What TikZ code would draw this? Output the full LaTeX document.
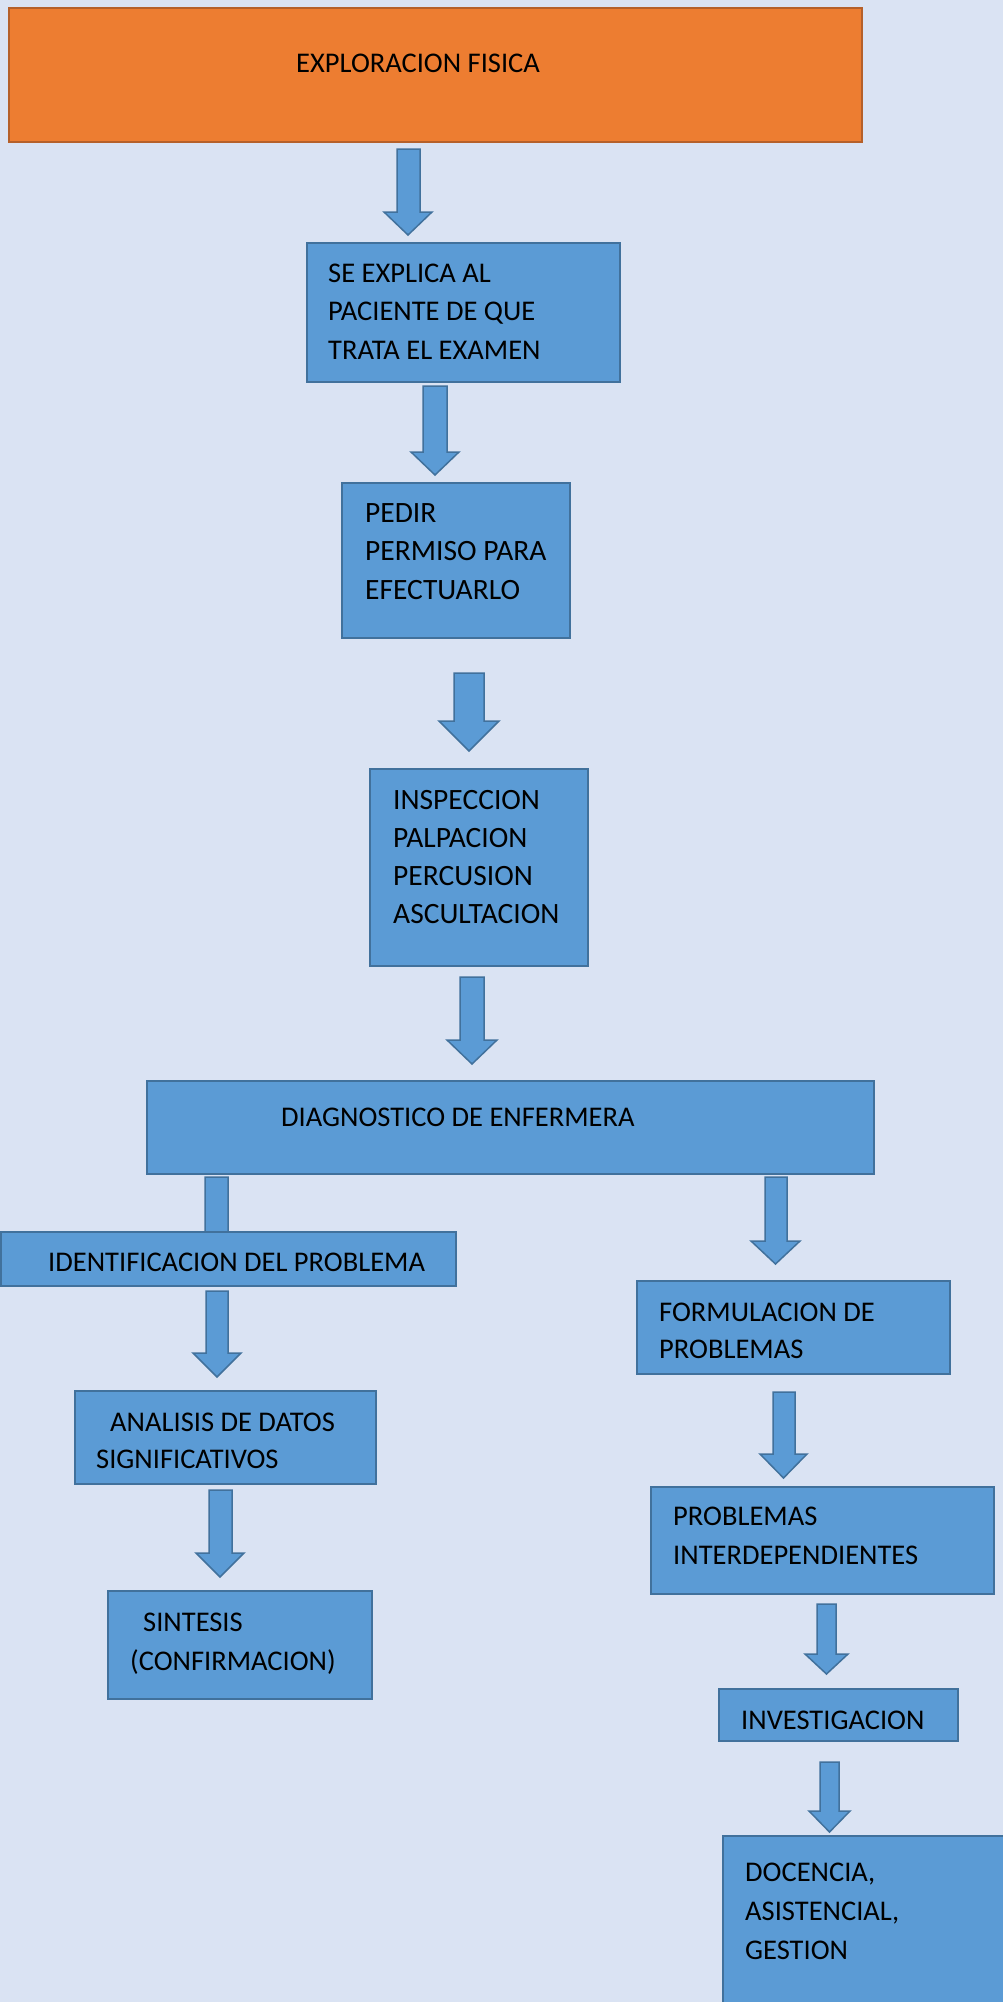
\documentclass[tikz,border=0pt]{standalone}
\usepackage{fontspec}
\setmainfont{Carlito}
\definecolor{bg}{HTML}{DAE3F3}
\definecolor{boxfill}{HTML}{5B9BD5}
\definecolor{boxline}{HTML}{41719C}
\definecolor{ofill}{HTML}{ED7D31}
\definecolor{oline}{HTML}{B5602A}
% block arrow: shaft left, shaft right, top, head start, head left, head right, tip
\newcommand{\blockarr}[7]{\draw[arr] (#1,#3) -- (#2,#3) -- (#2,#4) -- (#6,#4) -- ({(#5+#6)/2},#7) -- (#5,#4) -- (#1,#4) -- cycle;}
\begin{document}
\begin{tikzpicture}[x=1pt,y=-1pt,
  box/.style={draw=boxline, fill=boxfill, line width=2pt, inner sep=0pt},
  obox/.style={draw=oline, fill=ofill, line width=2pt, inner sep=0pt},
  txt/.style={anchor=base west, inner sep=0pt, align=left, font=\fontsize{28.5}{38.5}\selectfont, text=black},
  arr/.style={draw=boxline, fill=boxfill, line width=1.5pt, line join=miter}]
\fill[bg] (0,0) rectangle (1003,2002);
\useasboundingbox (0,0) rectangle (1003,2002);

% boxes
\node[obox, minimum width=853pt, minimum height=134pt] (b1) at (435.5,75) {};
\node[box, minimum width=313pt, minimum height=139pt] (b2) at (463.5,312.5) {};
\node[box, minimum width=228pt, minimum height=155pt] (b3) at (456,560.5) {};
\node[box, minimum width=218pt, minimum height=197pt] (b4) at (479,867.5) {};
\node[box, minimum width=727pt, minimum height=93pt] (b5) at (510.5,1127.5) {};

% connectors
\blockarr{397}{420}{149}{212}{384}{432}{235}
\blockarr{423}{447}{386}{452}{411}{459}{475}
\blockarr{454}{484}{673}{721}{439}{499}{751}
\blockarr{460}{484}{977}{1040}{447}{497}{1064}
\blockarr{205}{228}{1177}{1250}{193}{240}{1270}
\blockarr{765}{787}{1177}{1241}{751}{800}{1264}
\blockarr{206}{228}{1291}{1353}{193}{241}{1377}
\blockarr{773}{795}{1392}{1454}{760}{807}{1478}
\blockarr{209}{232}{1490}{1553}{196}{244}{1577}
\blockarr{817}{836}{1604}{1654}{805}{848}{1674}
\blockarr{820}{839}{1762}{1811}{809}{850}{1832}

\node[box, minimum width=455pt, minimum height=54pt] (b6) at (228.5,1259) {};
\node[box, minimum width=313pt, minimum height=93pt] (b7) at (793.5,1327.5) {};
\node[box, minimum width=301pt, minimum height=93pt] (b8) at (225.5,1437.5) {};
\node[box, minimum width=343pt, minimum height=107pt] (b9) at (822.5,1540.5) {};
\node[box, minimum width=264pt, minimum height=108pt] (b10) at (240,1645) {};
\node[box, minimum width=239pt, minimum height=52pt] (b11) at (838.5,1715) {};
\node[box, minimum width=297pt, minimum height=184pt] (b12) at (871.5,1928) {};

% texts (anchor = baseline of the last line)
\node[txt] (t1) at (296,73) {EXPLORACION FISICA};
\node[txt] (t2) at (328,359) {SE EXPLICA AL\\PACIENTE DE QUE\\TRATA EL EXAMEN};
\node[txt, font=\fontsize{29.5}{38.5}\selectfont] (t3) at (365,599) {PEDIR\\PERMISO PARA\\EFECTUARLO};
\node[txt, font=\fontsize{29.5}{38}\selectfont] (t4) at (393,923) {INSPECCION\\PALPACION\\PERCUSION\\ASCULTACION};
\node[txt] (t5) at (281,1126) {DIAGNOSTICO DE ENFERMERA};
\node[txt] (t6) at (48,1271) {IDENTIFICACION DEL PROBLEMA};
\node[txt, font=\fontsize{28.5}{37}\selectfont] (t7) at (659,1358) {FORMULACION DE\\PROBLEMAS};
\node[txt, font=\fontsize{28.5}{37}\selectfont] (t8) at (96,1468) {\hspace*{14pt}ANALISIS DE DATOS\\SIGNIFICATIVOS};
\node[txt] (t9) at (673,1564) {PROBLEMAS\\INTERDEPENDIENTES};
\node[txt, font=\fontsize{28.5}{39}\selectfont] (t10) at (130,1670) {\hspace*{13pt}SINTESIS\\(CONFIRMACION)};
\node[txt] (t11) at (741,1729) {INVESTIGACION};
\node[txt, font=\fontsize{28.5}{39}\selectfont] (t12) at (745,1959) {DOCENCIA,\\ASISTENCIAL,\\GESTION};
\end{tikzpicture}
\end{document}
